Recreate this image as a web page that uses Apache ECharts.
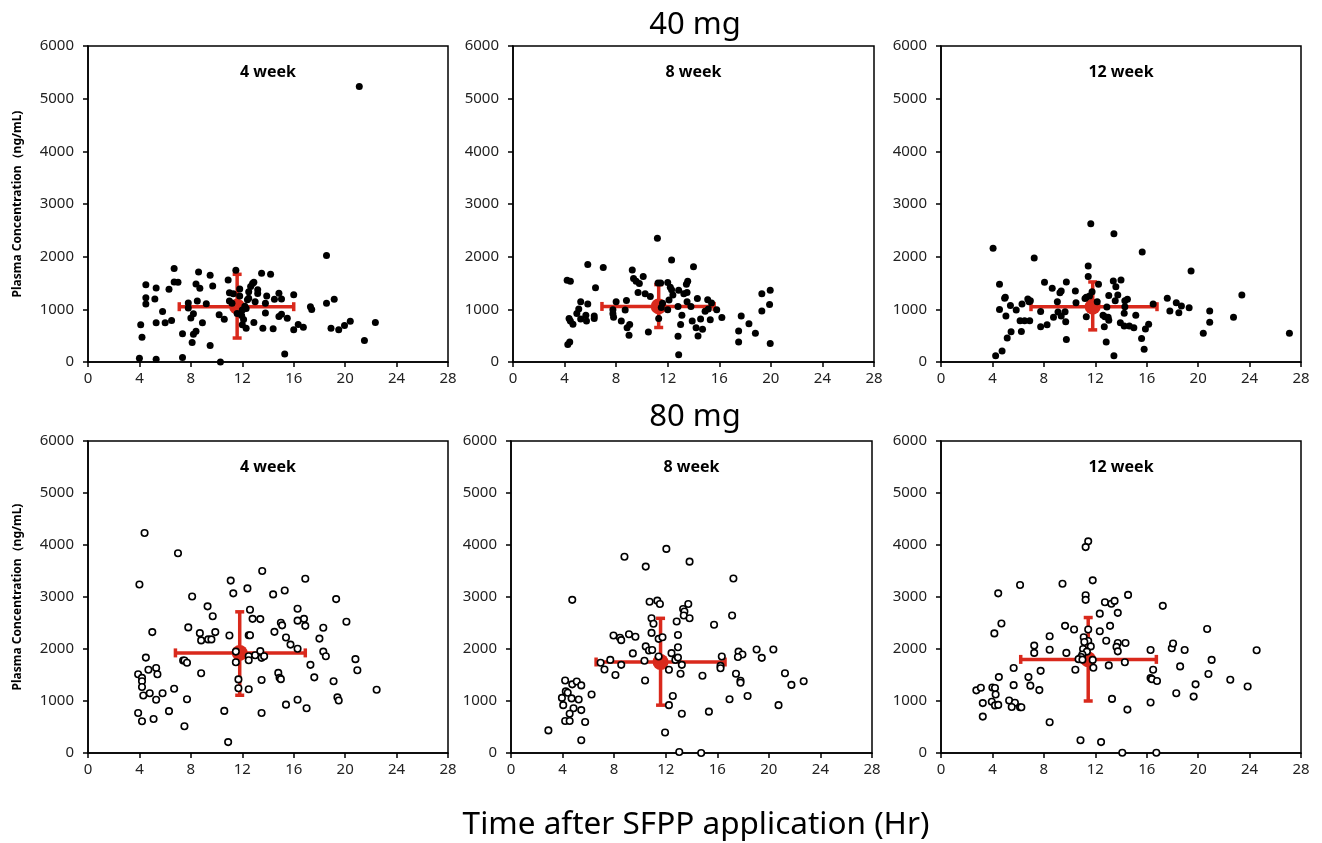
<!DOCTYPE html>
<html>
<head>
<meta charset="utf-8">
<script src="https://cdn.jsdelivr.net/npm/echarts@6/dist/echarts.min.js"></script>
<style>html,body{margin:0;padding:0;background:#fff}#c{width:1322px;height:843px}</style>
</head>
<body>
<div id="c"></div>
<script>
// ---- tick labels / titles ----
const xTicks = [0, 4, 8, 12, 16, 20, 24, 28];
const yTicks = [0, 1000, 2000, 3000, 4000, 5000, 6000];
const panelTitles = ['4 week', '8 week', '12 week', '4 week', '8 week', '12 week'];
const doseTitles = ['40 mg', '80 mg'];
const xTitle = 'Time after SFPP application (Hr)';
const yTitle = 'Plasma Concentration（ng/mL)';

// ---- data: [hours, ng/mL] ----
const d40w4 = [[4.0,70],[4.2,470],[4.1,705],[4.5,1220],[4.5,1100],[4.5,1465],[5.3,1405],[5.2,1195],[5.3,745],[5.3,50],[5.8,960],[6.0,745],[6.3,1380],[6.5,790],[6.7,1775],[6.7,1520],[7.0,1515],[7.35,535],[7.35,85],[7.8,1120],[7.8,1025],[8.2,915],[8.0,835],[8.1,370],[8.2,525],[8.4,585],[8.4,1480],[8.5,1160],[8.6,1710],[8.7,1400],[8.9,745],[9.2,1105],[9.5,1645],[9.5,315],[9.7,1445],[10.2,895],[10.3,0],[10.6,810],[10.9,1555],[11.0,1315],[11.0,1160],[11.2,1115],[11.3,1295],[11.5,1740],[11.6,920],[11.8,1385],[11.8,1255],[11.95,885],[12.0,985],[12.0,705],[12.1,805],[12.2,1060],[12.3,1015],[12.3,640],[12.4,1180],[12.5,1210],[12.5,1335],[12.65,1435],[12.8,1490],[12.9,750],[12.9,1515],[13.0,1145],[13.2,1370],[13.2,1300],[13.6,640],[13.5,1685],[13.8,930],[13.8,1115],[13.9,1255],[14.2,1665],[14.4,630],[14.5,1190],[14.85,1305],[14.85,865],[15.05,1195],[15.05,905],[15.3,150],[15.5,830],[16.0,1275],[16.0,610],[16.35,710],[16.75,660],[17.3,1050],[17.4,995],[18.55,2020],[18.55,1115],[18.9,640],[19.15,1190],[19.5,610],[19.95,695],[20.4,775],[21.1,5230],[21.5,410],[22.35,750]];
const d40w8 = [[11.2,2350],[12.3,1935],[5.8,1850],[7.0,1795],[14.0,1810],[4.2,1550],[4.45,1535],[9.25,1745],[10.1,1625],[9.35,1585],[9.55,1535],[9.8,1490],[6.4,1410],[9.7,1320],[10.25,1295],[10.65,1245],[11.25,1500],[11.45,1500],[12.0,1510],[12.2,1420],[12.3,1370],[12.4,1270],[12.1,1175],[12.85,1360],[13.25,1295],[13.5,1320],[13.55,1535],[13.45,1475],[13.5,1145],[13.8,1055],[12.8,1055],[14.3,1205],[15.1,1180],[15.4,1120],[15.15,1005],[14.9,965],[15.8,990],[16.2,845],[15.3,800],[14.55,815],[13.9,780],[14.2,650],[14.7,620],[14.35,495],[13.1,890],[13.0,710],[12.8,490],[12.85,140],[11.3,825],[11.5,1035],[11.6,1115],[12.0,990],[10.5,570],[9.0,510],[8.85,650],[9.05,710],[8.4,780],[8.7,985],[8.8,1170],[8.0,1145],[7.75,990],[7.75,915],[7.8,850],[6.3,875],[6.3,825],[5.7,780],[5.65,890],[5.25,815],[4.95,920],[5.1,1005],[5.25,1145],[5.8,1100],[4.35,825],[4.45,780],[4.65,715],[4.25,330],[4.4,380],[17.5,380],[17.5,590],[17.7,875],[18.3,725],[18.8,545],[19.3,1295],[19.3,970],[19.95,1360],[19.9,1090],[19.95,350]];
const d40w12 = [[11.65,2625],[13.45,2435],[4.05,2160],[7.25,1975],[15.65,2090],[11.45,1825],[11.45,1625],[19.45,1730],[4.55,1475],[5.0,1230],[4.95,1210],[5.4,1075],[4.55,995],[5.05,875],[5.85,985],[6.3,1100],[6.75,1195],[6.95,1165],[6.85,1145],[6.15,785],[6.5,785],[6.9,785],[6.25,580],[5.45,575],[5.15,455],[4.75,210],[4.25,120],[8.05,1515],[8.65,1400],[9.25,1315],[9.35,1350],[9.75,1520],[10.45,1350],[9.05,1145],[9.1,950],[8.75,850],[9.35,875],[9.65,955],[9.7,765],[7.75,960],[7.75,670],[8.25,705],[9.75,425],[10.5,1125],[11.2,1205],[11.3,1230],[11.55,1255],[11.75,1335],[12.15,1145],[12.25,1475],[11.3,860],[12.9,1045],[12.6,890],[12.75,860],[13.0,850],[13.05,795],[12.7,670],[12.85,380],[13.45,120],[13.05,1265],[13.4,1540],[13.6,1430],[14.0,1555],[13.75,1270],[13.55,1165],[14.3,1165],[14.5,1190],[14.3,1050],[14.25,925],[13.95,745],[14.25,685],[14.65,685],[15.0,650],[15.15,890],[15.6,445],[15.8,240],[15.9,625],[16.15,715],[16.5,1100],[17.6,1210],[17.8,970],[18.3,1125],[18.5,935],[18.7,1065],[19.3,1030],[20.9,970],[20.9,755],[20.4,545],[22.75,850],[23.4,1270],[27.1,545]];
const d80w4 = [[4.4,4230],[7.0,3840],[4.0,3240],[13.55,3500],[11.1,3315],[16.9,3350],[11.3,3070],[12.4,3165],[14.4,3050],[15.3,3125],[8.1,3010],[19.3,2960],[9.3,2820],[9.7,2630],[12.6,2755],[12.8,2580],[13.4,2575],[16.3,2775],[16.3,2545],[16.8,2580],[16.9,2445],[15.0,2505],[15.1,2455],[20.1,2525],[18.3,2410],[7.8,2415],[8.7,2305],[8.8,2165],[9.35,2185],[9.6,2185],[9.9,2325],[11.0,2260],[12.5,2265],[12.6,2265],[14.5,2330],[15.4,2220],[15.75,2085],[16.3,2005],[18.0,2200],[18.3,1950],[18.5,1860],[17.3,1695],[17.6,1455],[19.1,1380],[20.8,1805],[20.95,1590],[22.45,1215],[19.4,1070],[19.5,1010],[5.0,2325],[4.5,1835],[4.7,1600],[5.3,1635],[5.4,1515],[3.9,1515],[4.2,1445],[4.2,1380],[4.2,1270],[4.3,1105],[4.8,1150],[5.8,1150],[5.3,1025],[6.7,1235],[3.9,770],[4.2,610],[5.1,655],[6.3,805],[7.7,1035],[7.5,515],[7.4,1780],[7.5,1780],[7.7,1735],[8.8,1535],[10.6,810],[10.9,210],[11.5,1950],[11.5,1745],[11.7,1415],[11.7,1245],[12.5,1225],[12.5,1860],[12.5,1785],[13.0,1880],[13.4,1960],[13.5,1830],[13.7,1860],[13.5,1405],[14.8,1540],[14.9,1445],[15.0,1420],[13.5,770],[15.4,930],[16.3,1025],[17.0,860]];
const d80w8 = [[8.8,3775],[12.05,3925],[13.85,3680],[10.45,3585],[17.25,3355],[4.75,2945],[10.75,2910],[11.35,2930],[11.55,2865],[13.75,2865],[13.35,2770],[13.45,2720],[13.4,2645],[13.85,2590],[12.85,2530],[10.9,2590],[11.05,2485],[17.15,2645],[15.75,2465],[10.9,2310],[12.95,2270],[11.45,2195],[11.75,2225],[7.95,2260],[8.45,2215],[8.55,2170],[9.15,2285],[9.65,2235],[10.45,2050],[10.7,1970],[10.95,1980],[12.95,2035],[9.45,1915],[12.45,1920],[12.75,1790],[12.95,1835],[11.45,1855],[10.35,1775],[13.25,1695],[13.15,1525],[12.25,1600],[10.4,1395],[7.7,1790],[6.95,1735],[7.25,1605],[8.55,1695],[8.1,1500],[14.85,1485],[16.35,1855],[16.25,1675],[16.25,1630],[17.65,1950],[17.95,1895],[17.6,1845],[19.05,1990],[20.35,1990],[19.45,1830],[17.45,1525],[17.8,1390],[17.8,1350],[21.25,1535],[21.75,1310],[22.7,1380],[18.35,1095],[16.95,1035],[20.75,920],[15.35,795],[13.25,755],[12.55,1095],[12.25,920],[11.95,395],[13.05,20],[14.75,0],[6.25,1125],[4.2,1395],[4.75,1320],[5.1,1375],[5.45,1300],[4.25,1185],[4.4,1160],[3.95,1060],[4.7,1050],[5.25,1030],[4.05,920],[4.85,860],[4.55,755],[5.45,825],[4.2,615],[4.55,615],[5.75,595],[2.9,435],[5.45,245]];
const d80w12 = [[11.45,4070],[11.25,3960],[11.8,3320],[9.45,3255],[6.15,3230],[4.45,3070],[11.25,3035],[11.25,2945],[12.75,2900],[13.25,2870],[13.5,2925],[14.55,3040],[17.25,2830],[12.35,2680],[13.75,2695],[4.7,2490],[4.15,2300],[9.65,2445],[10.35,2375],[11.45,2375],[13.15,2445],[12.35,2340],[20.7,2385],[8.45,2245],[11.1,2225],[11.45,2155],[11.15,2135],[12.85,2160],[13.75,2115],[14.35,2115],[7.25,2065],[7.25,1925],[8.45,1985],[9.75,1925],[11.65,2050],[11.05,2000],[11.35,1950],[11.0,1895],[10.9,1845],[10.7,1805],[11.0,1795],[13.65,2040],[13.75,1955],[16.3,1980],[17.95,2015],[18.05,2105],[18.95,1980],[21.05,1790],[24.55,1975],[11.8,1790],[11.85,1640],[10.45,1600],[13.05,1685],[14.3,1745],[16.5,1600],[16.3,1440],[16.4,1420],[16.8,1385],[18.6,1665],[20.8,1520],[22.5,1410],[23.85,1280],[5.65,1635],[4.5,1460],[6.8,1460],[7.75,1580],[6.95,1295],[7.65,1210],[5.65,1305],[4.0,1260],[4.2,1250],[2.75,1205],[3.1,1255],[4.25,1125],[3.25,960],[3.95,985],[4.2,915],[4.45,925],[5.3,1010],[5.75,965],[5.5,885],[6.15,880],[6.25,880],[3.25,700],[8.45,590],[13.3,1040],[14.5,835],[16.3,970],[18.3,1150],[19.65,1085],[19.8,1320],[10.85,245],[12.45,210],[14.1,5],[16.75,5]];

// ---- mean ± spread: [xMean, yMean, xLow, xHigh, yLow, yHigh] ----
const m40w4 = [11.6, 1050, 7.1, 16.0, 455, 1665];
const m40w8 = [11.3, 1055, 6.9, 15.6, 655, 1470];
const m40w12 = [11.8, 1050, 7.0, 16.8, 610, 1520];
const m80w4 = [11.8, 1925, 6.8, 16.9, 1110, 2715];
const m80w8 = [11.6, 1750, 6.6, 16.6, 920, 2590];
const m80w12 = [11.45, 1800, 6.2, 16.75, 1000, 2605];

const panelData = [d40w4, d40w8, d40w12, d80w4, d80w8, d80w12];
const panelMeans = [m40w4, m40w8, m40w12, m80w4, m80w8, m80w12];

const RED = '#d9291c';
const FONT = 'Noto Sans';
const chart = echarts.init(document.getElementById('c'), null, {renderer: 'canvas'});

const gridPos = [
  {left: 88, top: 46, width: 360, height: 316},
  {left: 513, top: 46, width: 361, height: 316},
  {left: 941, top: 46, width: 360, height: 316},
  {left: 88, top: 441, width: 360, height: 312},
  {left: 511, top: 441, width: 361, height: 312},
  {left: 941, top: 441, width: 360, height: 312}
];

const grids = [], xAxes = [], yAxes = [], series = [];
gridPos.forEach((g, i) => {
  grids.push(Object.assign({show: true, borderColor: '#000', borderWidth: 1.5, backgroundColor: '#fff'}, g));
  xAxes.push({
    type: 'value', gridIndex: i, min: xTicks[0], max: xTicks[xTicks.length - 1], interval: 4,
    axisLine: {show: true, onZero: false, lineStyle: {color: '#000', width: 1.5}},
    axisTick: {show: true, inside: false, length: 5, lineStyle: {color: '#000', width: 1.5}},
    axisLabel: {color: '#222', fontSize: 15, fontFamily: FONT, margin: 9, formatter: v => String(v)},
    splitLine: {show: false}
  });
  yAxes.push({
    type: 'value', gridIndex: i, min: yTicks[0], max: yTicks[yTicks.length - 1], interval: 1000,
    axisLine: {show: true, onZero: false, lineStyle: {color: '#000', width: 1.5}},
    axisTick: {show: true, inside: false, length: 5, lineStyle: {color: '#000', width: 1.5}},
    axisLabel: {color: '#222', fontSize: 15, fontFamily: FONT, margin: 14, formatter: v => String(v)},
    splitLine: {show: false}
  });
  const filled = i < 3;
  series.push({
    type: 'custom', xAxisIndex: i, yAxisIndex: i, z: 2, silent: true,
    data: [panelMeans[i]],
    renderItem: function (params, api) {
      const xm = api.value(0), ym = api.value(1);
      const c = api.coord([xm, ym]);
      const l = api.coord([api.value(2), ym]);
      const r = api.coord([api.value(3), ym]);
      const b = api.coord([xm, api.value(4)]);
      const t = api.coord([xm, api.value(5)]);
      const st = {stroke: RED, lineWidth: 3.5};
      const cap = 4.5;
      return {type: 'group', children: [
        {type: 'line', shape: {x1: l[0], y1: l[1], x2: r[0], y2: r[1]}, style: st},
        {type: 'line', shape: {x1: c[0], y1: t[1], x2: c[0], y2: b[1]}, style: st},
        {type: 'line', shape: {x1: l[0], y1: l[1] - cap, x2: l[0], y2: l[1] + cap}, style: st},
        {type: 'line', shape: {x1: r[0], y1: r[1] - cap, x2: r[0], y2: r[1] + cap}, style: st},
        {type: 'line', shape: {x1: c[0] - cap, y1: t[1], x2: c[0] + cap, y2: t[1]}, style: st},
        {type: 'line', shape: {x1: c[0] - cap, y1: b[1], x2: c[0] + cap, y2: b[1]}, style: st},
        {type: 'circle', shape: {cx: c[0], cy: c[1], r: 8}, style: {fill: RED}}
      ]};
    }
  });
  series.push({
    type: 'scatter', xAxisIndex: i, yAxisIndex: i, z: 3, silent: true,
    data: panelData[i],
    symbol: 'circle',
    symbolSize: filled ? 7 : 6.5,
    itemStyle: filled ? {color: '#000', opacity: 1} : {color: '#fff', borderColor: '#000', borderWidth: 1.6, opacity: 1}
  });
});

const graphics = [];
gridPos.forEach((g, i) => {
  graphics.push({type: 'text', x: g.left + g.width / 2, y: g.top + 26, z: 10,
    style: {text: panelTitles[i], font: 'bold 16px "Noto Sans"', fill: '#000', textAlign: 'center', textVerticalAlign: 'middle'}});
});
graphics.push({type: 'text', x: 695, y: 25, style: {text: doseTitles[0], font: '31px "Noto Sans"', fill: '#000', textAlign: 'center', textVerticalAlign: 'middle'}});
graphics.push({type: 'text', x: 695, y: 417, style: {text: doseTitles[1], font: '31px "Noto Sans"', fill: '#000', textAlign: 'center', textVerticalAlign: 'middle'}});
graphics.push({type: 'text', x: 696, y: 825, style: {text: xTitle, font: '31.5px "Noto Sans"', fill: '#000', textAlign: 'center', textVerticalAlign: 'middle'}});
[204, 597].forEach(cy => {
  graphics.push({type: 'text', x: 18, y: cy, rotation: Math.PI / 2,
    style: {text: yTitle, font: 'bold 12px "Noto Sans"', fill: '#000', textAlign: 'center', textVerticalAlign: 'middle'}});
});

chart.setOption({
  animation: false,
  backgroundColor: '#fff',
  grid: grids, xAxis: xAxes, yAxis: yAxes, series: series,
  graphic: graphics
});
</script>
</body>
</html>
